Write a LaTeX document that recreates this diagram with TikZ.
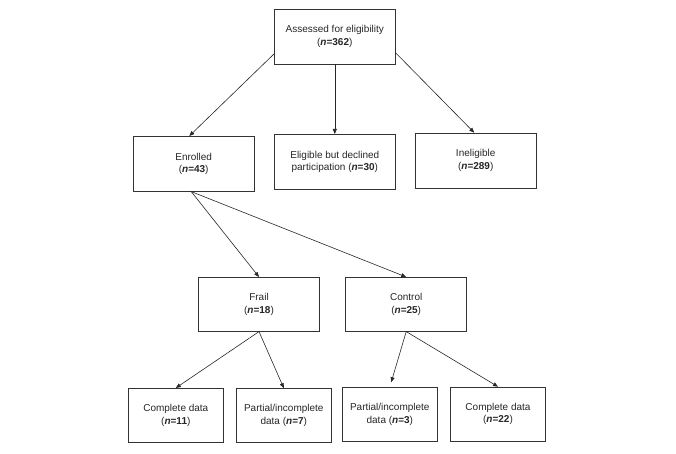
\documentclass[tikz,border=0pt]{standalone}
\usepackage{fontspec}
\setmainfont{Liberation Sans}
\usetikzlibrary{arrows.meta}
\newcommand{\nval}[1]{(\textbf{\textit{n}=#1})}
\begin{document}
\begin{tikzpicture}[x=1pt,y=-1pt,
                    box/.style = {draw=black!80, line width=0.6pt, align=center, inner sep=0pt,
                                  font=\fontsize{10}{12.5}\selectfont, text=black!85},
                    wide/.style = {box, minimum width=121pt, minimum height=55pt},
                    small/.style = {box, minimum width=95pt, minimum height=54pt},
                    arrow/.style = {line width=0.6pt, black!85, -{Triangle[length=5pt,width=4pt]}}]
                    \useasboundingbox (0,0) rectangle (676,454);

                    % screening
                    \node [wide] (assessed) at (334.8,36.5) {Assessed for eligibility\\\nval{362}};
                    \node [wide] (enrolled) at (193.7,163.8) {Enrolled\\\nval{43}};
                    \node [wide] (declined) at (334.8,161.8) {Eligible but declined\\participation \nval{30}};
                    \node [wide] (inelig) at (475.7,160.5) {Ineligible\\\nval{289}};

                    % groups
                    \node [wide, minimum height=54pt] (frail) at (259,304.3) {Frail\\\nval{18}};
                    \node [wide, minimum height=54pt] (control) at (406.2,304.3) {Control\\\nval{25}};

                    % data
                    \node [small] (frailfull) at (175.8,415.3) {Complete data\\\nval{11}};
                    \node [small] (frailpart) at (283.8,415.5) {Partial/incomplete\\data \nval{7}};
                    \node [small] (ctrlpart) at (389.8,414.3) {Partial/incomplete\\data \nval{3}};
                    \node [small] (ctrlfull) at (498,414) {Complete data\\\nval{22}};

                    \draw[arrow] (assessed.196) -- (enrolled.99);
                    \draw[arrow] (assessed.south) -- (declined.north);
                    \draw[arrow] (assessed.345) -- (inelig.93);

                    \draw[arrow] (enrolled.265) -- (frail.north);
                    \draw[arrow] (enrolled.265) -- (control.north);

                    \draw[arrow] (frail.south) -- (frailfull.north);
                    \draw[arrow] (frail.south) -- (frailpart.north);
                    \draw[arrow, shorten >=5pt] (control.south) -- (ctrlpart.north);
                    \draw[arrow] (control.south) -- (ctrlfull.north);
                \end{tikzpicture}
\end{document}
